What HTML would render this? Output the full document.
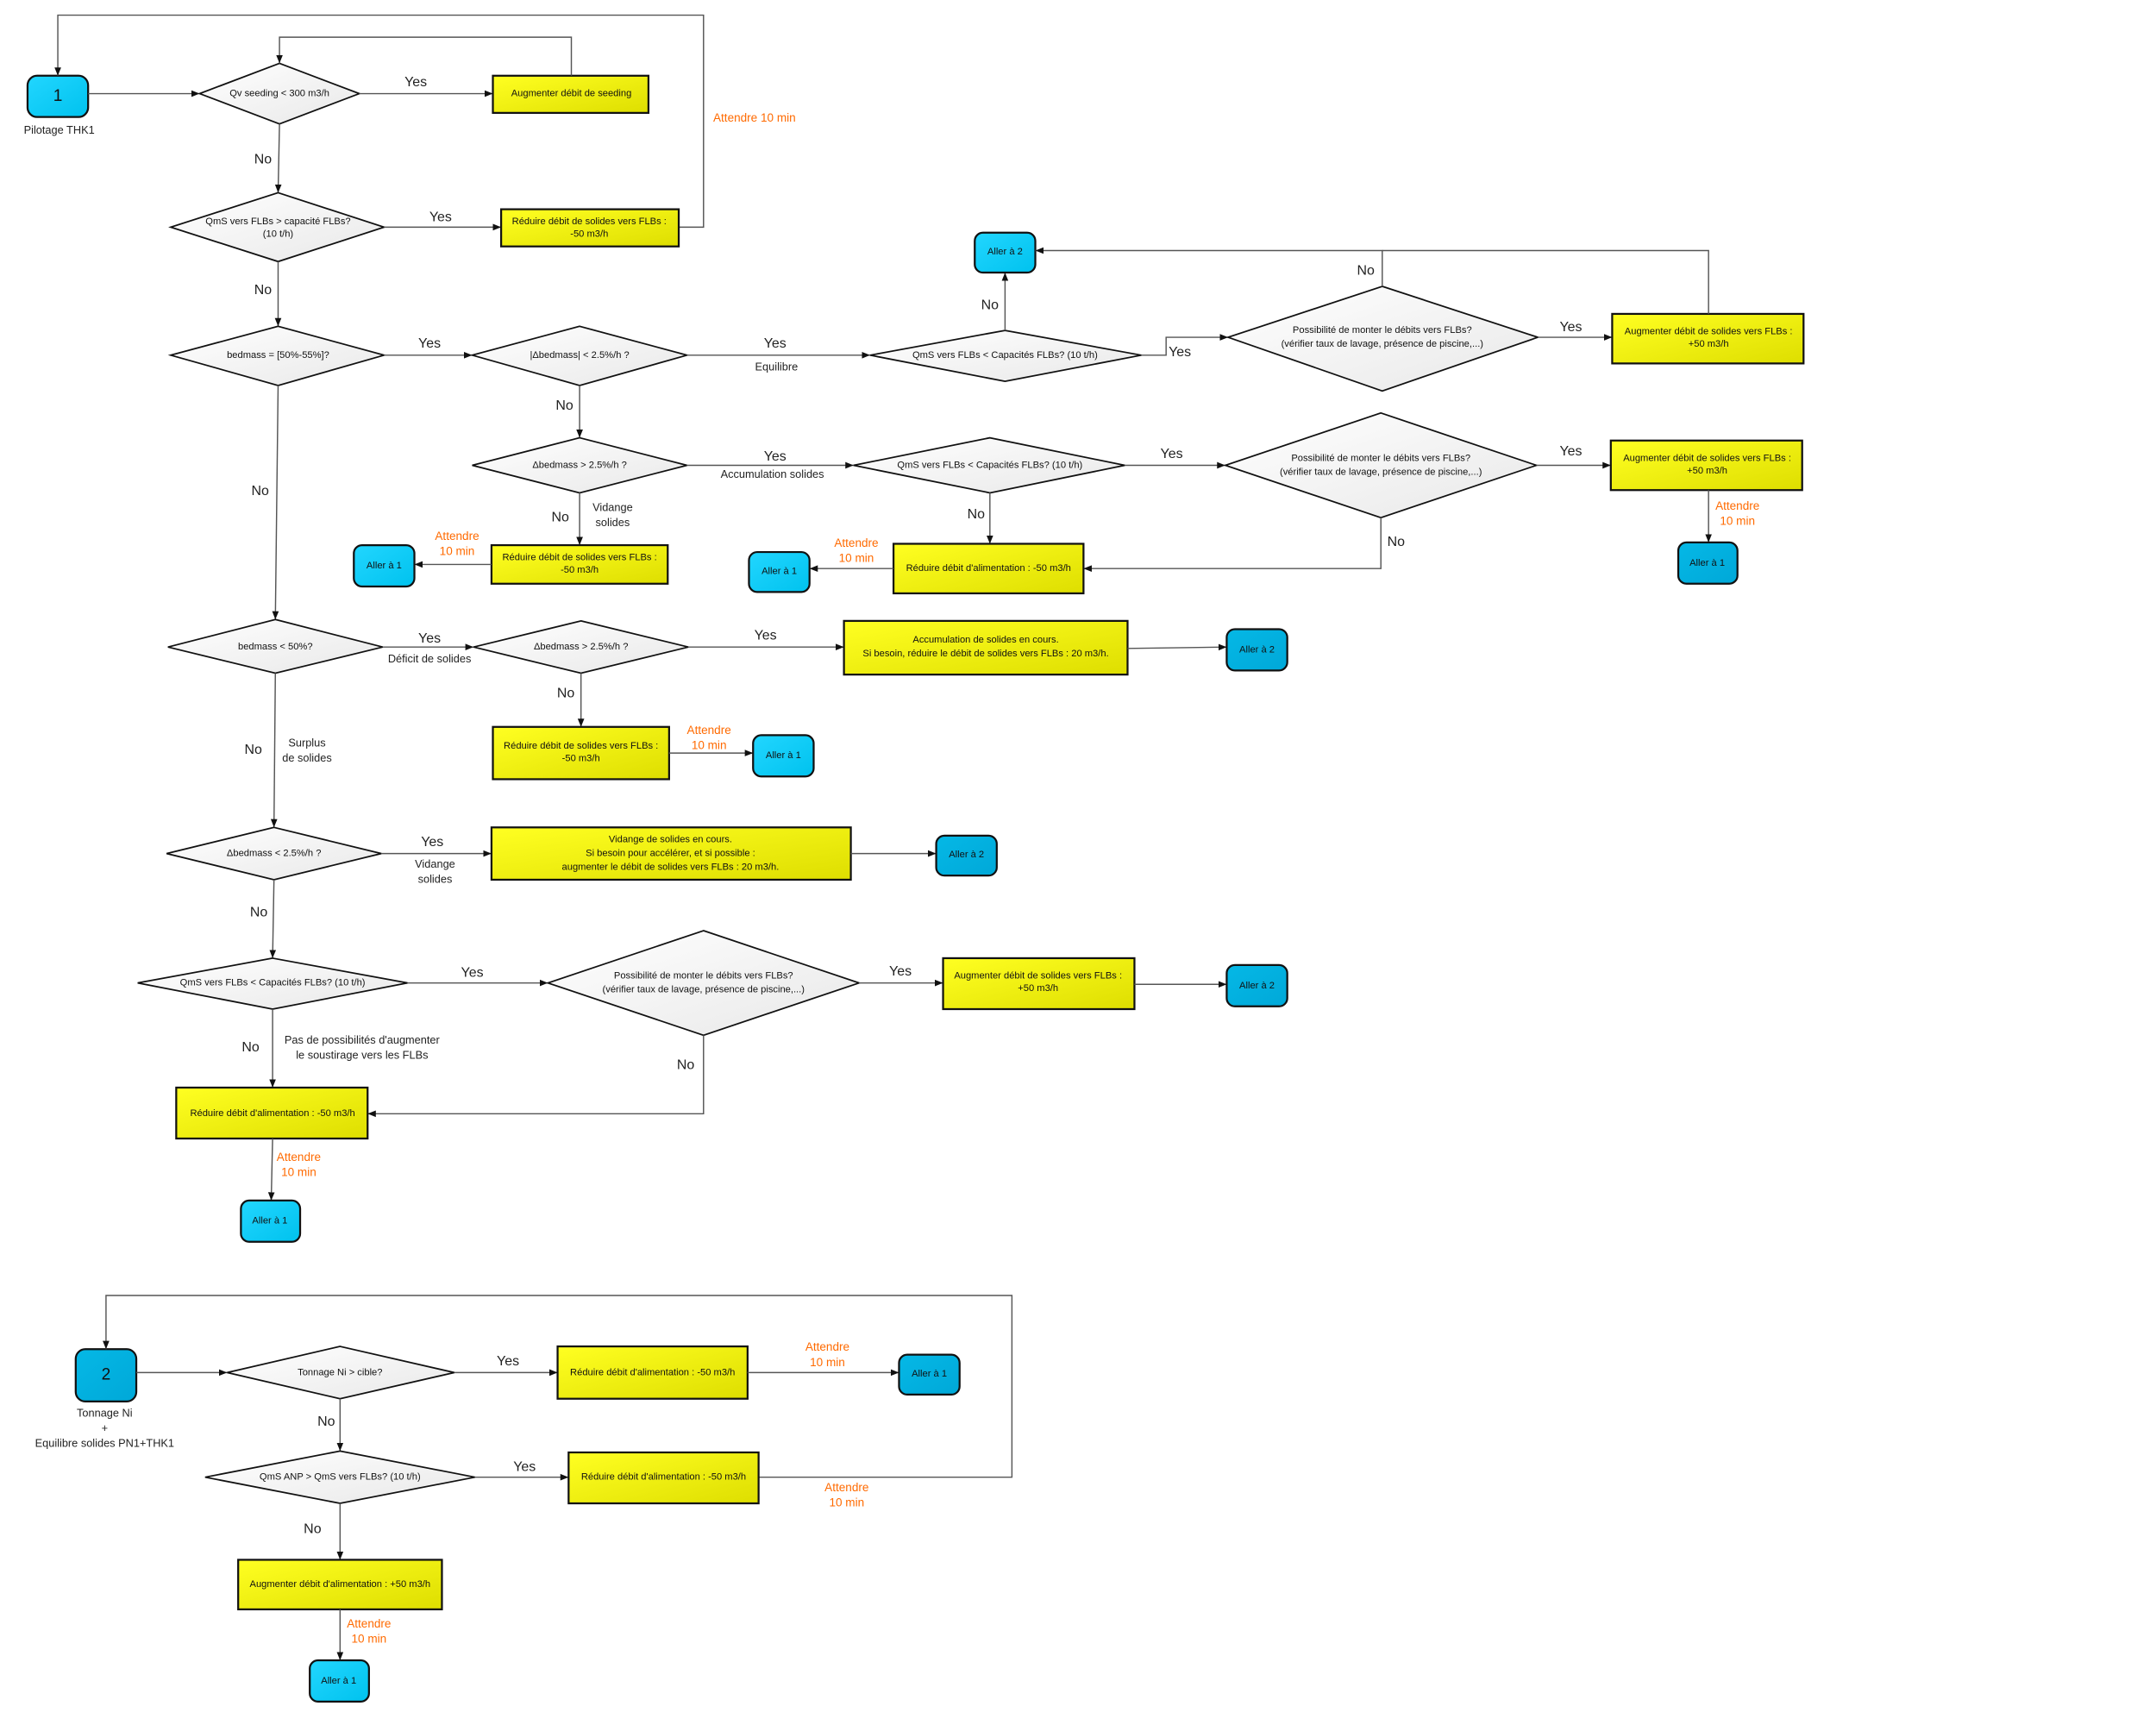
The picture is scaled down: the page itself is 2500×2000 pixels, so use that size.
<!DOCTYPE html>
<html><head><meta charset="utf-8">
<style>
html,body{margin:0;padding:0;background:#fff;}
svg{display:block;}
text{font-family:"Liberation Sans",Arial,sans-serif;text-anchor:middle;dominant-baseline:middle;fill:#111;}
.t{font-size:7px;}
.l{font-size:10px;fill:#222;}
.o{font-size:8.5px;fill:#ff6a00;}
.n{font-size:8px;fill:#222;}
.d{fill:url(#gd);stroke:#111;stroke-width:1.1;}
.b{fill:url(#gy);stroke:#111;stroke-width:1.4;}
.a{fill:url(#gb);stroke:#111;stroke-width:1.4;}
.a2{fill:url(#gb2);stroke:#111;stroke-width:1.4;}
.c{fill:none;stroke:#555;stroke-width:0.9;marker-end:url(#ar);}
.c0{fill:none;stroke:#555;stroke-width:0.9;}
</style></head><body>
<svg width="2500" height="2000" viewBox="0 0 1566 1253" preserveAspectRatio="none" xmlns="http://www.w3.org/2000/svg">
<defs>
<marker id="ar" viewBox="0 0 10 10" refX="10" refY="5" markerWidth="6" markerHeight="6" orient="auto" markerUnits="userSpaceOnUse"><path d="M0,1 L10,5 L0,9 z" fill="#111"/></marker>
<linearGradient id="gd" x1="0" y1="0" x2="1" y2="1"><stop offset="0" stop-color="#ffffff"/><stop offset="1" stop-color="#e8e8e8"/></linearGradient>
<linearGradient id="gy" x1="0" y1="0" x2="1" y2="1"><stop offset="0" stop-color="#ffff22"/><stop offset="1" stop-color="#dede00"/></linearGradient>
<linearGradient id="gb" x1="0" y1="0" x2="1" y2="1"><stop offset="0" stop-color="#22d6ff"/><stop offset="1" stop-color="#00c2ee"/></linearGradient>
<linearGradient id="gb2" x1="0" y1="0" x2="1" y2="1"><stop offset="0" stop-color="#05b8e6"/><stop offset="1" stop-color="#00a8d8"/></linearGradient>
</defs>

<!-- Section 1 -->
<rect class="a" x="20" y="55" width="44" height="30" rx="7"/>
<text x="42" y="70" style="font-size:12px">1</text>
<text class="n" x="43" y="95">Pilotage THK1</text>
<polyline class="c" points="493,165 511,165 511,11 42,11 42,55"/>
<text class="o" x="548" y="86">Attendre 10 min</text>

<line class="c" x1="64" y1="68" x2="145" y2="68"/>
<polygon class="d" points="203,46 261,68 203,90 145,68"/>
<text class="t" x="203" y="68">Qv seeding &lt; 300 m3/h</text>
<line class="c" x1="261" y1="68" x2="358" y2="68"/>
<text class="l" x="302" y="60">Yes</text>
<rect class="b" x="358" y="55" width="113" height="27"/>
<text class="t" x="415" y="68">Augmenter débit de seeding</text>
<polyline class="c" points="415,55 415,27 203,27 203,46"/>

<line class="c" x1="203" y1="90" x2="202" y2="140"/>
<text class="l" x="191" y="116">No</text>
<polygon class="d" points="202,140 279,165 202,190 124,165"/>
<text class="t" x="202" y="161">QmS vers FLBs &gt; capacité FLBs?</text>
<text class="t" x="202" y="170">(10 t/h)</text>
<line class="c" x1="279" y1="165" x2="364" y2="165"/>
<text class="l" x="320" y="158">Yes</text>
<rect class="b" x="364" y="152" width="129" height="27"/>
<text class="t" x="428" y="161">Réduire débit de solides vers FLBs :</text>
<text class="t" x="428" y="170">-50 m3/h</text>

<line class="c" x1="202" y1="190" x2="202" y2="237"/>
<text class="l" x="191" y="211">No</text>
<polygon class="d" points="202,237 279,258 202,280 124,258"/>
<text class="t" x="202" y="258">bedmass = [50%-55%]?</text>
<line class="c" x1="279" y1="258" x2="343" y2="258"/>
<text class="l" x="312" y="250">Yes</text>
<polygon class="d" points="421,237 499,258 421,280 343,258"/>
<text class="t" x="421" y="258">|Δbedmass| &lt; 2.5%/h ?</text>
<line class="c" x1="499" y1="258" x2="632" y2="258"/>
<text class="l" x="563" y="250">Yes</text>
<text class="n" x="564" y="267">Equilibre</text>
<polygon class="d" points="730,240 829,258 730,277 632,258"/>
<text class="t" x="730" y="258">QmS vers FLBs &lt; Capacités FLBs? (10 t/h)</text>
<line class="c" x1="730" y1="240" x2="730" y2="198"/>
<text class="l" x="719" y="222">No</text>
<rect class="a" x="708" y="169" width="44" height="29" rx="6"/>
<text class="t" x="730" y="183">Aller à 2</text>
<polyline class="c" points="829,258 847,258 847,245 892,245"/>
<text class="l" x="857" y="256">Yes</text>
<polygon class="d" points="1004,208 1117,245 1004,284 892,245"/>
<text class="t" x="1004" y="240">Possibilité de monter le débits vers FLBs?</text>
<text class="t" x="1004" y="250">(vérifier taux de lavage, présence de piscine,...)</text>
<polyline class="c" points="1004,208 1004,182 752,182"/>
<text class="l" x="992" y="197">No</text>
<line class="c" x1="1117" y1="245" x2="1171" y2="245"/>
<text class="l" x="1141" y="238">Yes</text>
<rect class="b" x="1171" y="228" width="139" height="36"/>
<text class="t" x="1241" y="241">Augmenter débit de solides vers FLBs :</text>
<text class="t" x="1241" y="250">+50 m3/h</text>
<polyline class="c0" points="1241,228 1241,182 1004,182"/>

<line class="c" x1="421" y1="280" x2="421" y2="318"/>
<text class="l" x="410" y="295">No</text>
<polygon class="d" points="421,318 499,338 421,358 343,338"/>
<text class="t" x="421" y="338">Δbedmass &gt; 2.5%/h ?</text>
<line class="c" x1="499" y1="338" x2="620" y2="338"/>
<text class="l" x="563" y="332">Yes</text>
<text class="n" x="561" y="345">Accumulation solides</text>
<polygon class="d" points="719,318 817,338 719,358 620,338"/>
<text class="t" x="719" y="338">QmS vers FLBs &lt; Capacités FLBs? (10 t/h)</text>
<line class="c" x1="817" y1="338" x2="890" y2="338"/>
<text class="l" x="851" y="330">Yes</text>
<polygon class="d" points="1003,300 1116,338 1003,376 890,338"/>
<text class="t" x="1003" y="333">Possibilité de monter le débits vers FLBs?</text>
<text class="t" x="1003" y="343">(vérifier taux de lavage, présence de piscine,...)</text>
<line class="c" x1="1116" y1="338" x2="1170" y2="338"/>
<text class="l" x="1141" y="328">Yes</text>
<rect class="b" x="1170" y="320" width="139" height="36"/>
<text class="t" x="1240" y="333">Augmenter débit de solides vers FLBs :</text>
<text class="t" x="1240" y="342">+50 m3/h</text>
<line class="c" x1="1241" y1="356" x2="1241" y2="394"/>
<text class="o" x="1262" y="368">Attendre</text>
<text class="o" x="1262" y="379">10 min</text>
<rect class="a2" x="1219" y="394" width="43" height="30" rx="6"/>
<text class="t" x="1240" y="409">Aller à 1</text>
<polyline class="c" points="1003,376 1003,413 787,413"/>
<text class="l" x="1014" y="394">No</text>
<line class="c" x1="719" y1="358" x2="719" y2="395"/>
<text class="l" x="709" y="374">No</text>
<rect class="b" x="649" y="395" width="138" height="36"/>
<text class="t" x="718" y="413">Réduire débit d'alimentation : -50 m3/h</text>
<line class="c" x1="649" y1="413" x2="588" y2="413"/>
<text class="o" x="622" y="395">Attendre</text>
<text class="o" x="622" y="406">10 min</text>
<rect class="a" x="544" y="401" width="44" height="29" rx="6"/>
<text class="t" x="566" y="415">Aller à 1</text>

<line class="c" x1="421" y1="358" x2="421" y2="396"/>
<text class="l" x="407" y="376">No</text>
<text class="n" x="445" y="369">Vidange</text>
<text class="n" x="445" y="380">solides</text>
<rect class="b" x="357" y="396" width="128" height="28"/>
<text class="t" x="421" y="405">Réduire débit de solides vers FLBs :</text>
<text class="t" x="421" y="414">-50 m3/h</text>
<line class="c" x1="357" y1="410" x2="301" y2="410"/>
<text class="o" x="332" y="390">Attendre</text>
<text class="o" x="332" y="401">10 min</text>
<rect class="a" x="257" y="396" width="44" height="30" rx="6"/>
<text class="t" x="279" y="411">Aller à 1</text>

<line class="c" x1="202" y1="280" x2="200" y2="450"/>
<text class="l" x="189" y="357">No</text>
<polygon class="d" points="200,450 278,470 200,489 122,470"/>
<text class="t" x="200" y="470">bedmass &lt; 50%?</text>
<line class="c" x1="278" y1="470" x2="344" y2="470"/>
<text class="l" x="312" y="464">Yes</text>
<text class="n" x="312" y="479">Déficit de solides</text>
<polygon class="d" points="422,451 500,470 422,489 344,470"/>
<text class="t" x="422" y="470">Δbedmass &gt; 2.5%/h ?</text>
<line class="c" x1="500" y1="470" x2="613" y2="470"/>
<text class="l" x="556" y="462">Yes</text>
<rect class="b" x="613" y="451" width="206" height="39"/>
<text class="t" x="716" y="465">Accumulation de solides en cours.</text>
<text class="t" x="716" y="475">Si besoin, réduire le débit de solides vers FLBs : 20 m3/h.</text>
<line class="c" x1="819" y1="471" x2="891" y2="470"/>
<rect class="a2" x="891" y="457" width="44" height="30" rx="6"/>
<text class="t" x="913" y="472">Aller à 2</text>

<line class="c" x1="422" y1="489" x2="422" y2="528"/>
<text class="l" x="411" y="504">No</text>
<rect class="b" x="358" y="528" width="128" height="38"/>
<text class="t" x="422" y="542">Réduire débit de solides vers FLBs :</text>
<text class="t" x="422" y="551">-50 m3/h</text>
<line class="c" x1="486" y1="547" x2="547" y2="547"/>
<text class="o" x="515" y="531">Attendre</text>
<text class="o" x="515" y="542">10 min</text>
<rect class="a" x="547" y="534" width="44" height="30" rx="6"/>
<text class="t" x="569" y="549">Aller à 1</text>

<line class="c" x1="200" y1="489" x2="199" y2="601"/>
<text class="l" x="184" y="545">No</text>
<text class="n" x="223" y="540">Surplus</text>
<text class="n" x="223" y="551">de solides</text>
<polygon class="d" points="199,601 277,620 199,639 121,620"/>
<text class="t" x="199" y="620">Δbedmass &lt; 2.5%/h ?</text>
<line class="c" x1="277" y1="620" x2="357" y2="620"/>
<text class="l" x="314" y="612">Yes</text>
<text class="n" x="316" y="628">Vidange</text>
<text class="n" x="316" y="639">solides</text>
<rect class="b" x="357" y="601" width="261" height="38"/>
<text class="t" x="487" y="610">Vidange de solides en cours.</text>
<text class="t" x="487" y="620">Si besoin pour accélérer, et si possible :</text>
<text class="t" x="487" y="630">augmenter le débit de solides vers FLBs : 20 m3/h.</text>
<line class="c" x1="618" y1="620" x2="680" y2="620"/>
<rect class="a2" x="680" y="607" width="44" height="29" rx="6"/>
<text class="t" x="702" y="621">Aller à 2</text>

<line class="c" x1="199" y1="639" x2="198" y2="696"/>
<text class="l" x="188" y="663">No</text>
<polygon class="d" points="198,696 296,714 198,733 100,714"/>
<text class="t" x="198" y="714">QmS vers FLBs &lt; Capacités FLBs? (10 t/h)</text>
<line class="c" x1="296" y1="714" x2="398" y2="714"/>
<text class="l" x="343" y="707">Yes</text>
<polygon class="d" points="511,676 624,714 511,752 398,714"/>
<text class="t" x="511" y="709">Possibilité de monter le débits vers FLBs?</text>
<text class="t" x="511" y="719">(vérifier taux de lavage, présence de piscine,...)</text>
<line class="c" x1="624" y1="714" x2="685" y2="714"/>
<text class="l" x="654" y="706">Yes</text>
<rect class="b" x="685" y="696" width="139" height="37"/>
<text class="t" x="754" y="709">Augmenter débit de solides vers FLBs :</text>
<text class="t" x="754" y="718">+50 m3/h</text>
<line class="c" x1="824" y1="715" x2="891" y2="715"/>
<rect class="a2" x="891" y="701" width="44" height="30" rx="6"/>
<text class="t" x="913" y="716">Aller à 2</text>
<polyline class="c" points="511,752 511,809 267,809"/>
<text class="l" x="498" y="774">No</text>
<line class="c" x1="198" y1="733" x2="198" y2="790"/>
<text class="l" x="182" y="761">No</text>
<text class="n" x="263" y="756">Pas de possibilités d'augmenter</text>
<text class="n" x="263" y="767">le soustirage vers les FLBs</text>
<rect class="b" x="128" y="790" width="139" height="37"/>
<text class="t" x="198" y="809">Réduire débit d'alimentation : -50 m3/h</text>
<line class="c" x1="198" y1="827" x2="197" y2="872"/>
<text class="o" x="217" y="841">Attendre</text>
<text class="o" x="217" y="852">10 min</text>
<rect class="a" x="175" y="872" width="43" height="30" rx="6"/>
<text class="t" x="196" y="887">Aller à 1</text>

<!-- Section 2 -->
<rect class="a2" x="55" y="980" width="44" height="38" rx="7"/>
<text x="77" y="999" style="font-size:12px">2</text>
<text class="n" x="76" y="1027">Tonnage Ni</text>
<text class="n" x="76" y="1038">+</text>
<text class="n" x="76" y="1049">Equilibre solides PN1+THK1</text>
<polyline class="c" points="551,1073 735,1073 735,941 77,941 77,980"/>
<text class="o" x="615" y="1081">Attendre</text>
<text class="o" x="615" y="1092">10 min</text>

<line class="c" x1="99" y1="997" x2="165" y2="997"/>
<polygon class="d" points="247,978 330,997 247,1016 165,997"/>
<text class="t" x="247" y="997">Tonnage Ni &gt; cible?</text>
<line class="c" x1="330" y1="997" x2="405" y2="997"/>
<text class="l" x="369" y="989">Yes</text>
<rect class="b" x="405" y="978" width="138" height="38"/>
<text class="t" x="474" y="997">Réduire débit d'alimentation : -50 m3/h</text>
<line class="c" x1="543" y1="997" x2="653" y2="997"/>
<text class="o" x="601" y="979">Attendre</text>
<text class="o" x="601" y="990">10 min</text>
<rect class="a2" x="653" y="984" width="44" height="29" rx="6"/>
<text class="t" x="675" y="998">Aller à 1</text>

<line class="c" x1="247" y1="1016" x2="247" y2="1054"/>
<text class="l" x="237" y="1033">No</text>
<polygon class="d" points="247,1054 345,1073 247,1092 149,1073"/>
<text class="t" x="247" y="1073">QmS ANP &gt; QmS vers FLBs? (10 t/h)</text>
<line class="c" x1="345" y1="1073" x2="413" y2="1073"/>
<text class="l" x="381" y="1066">Yes</text>
<rect class="b" x="413" y="1055" width="138" height="37"/>
<text class="t" x="482" y="1073">Réduire débit d'alimentation : -50 m3/h</text>

<line class="c" x1="247" y1="1092" x2="247" y2="1133"/>
<text class="l" x="227" y="1111">No</text>
<rect class="b" x="173" y="1133" width="148" height="36"/>
<text class="t" x="247" y="1151">Augmenter débit d'alimentation : +50 m3/h</text>
<line class="c" x1="247" y1="1169" x2="247" y2="1206"/>
<text class="o" x="268" y="1180">Attendre</text>
<text class="o" x="268" y="1191">10 min</text>
<rect class="a" x="225" y="1206" width="43" height="30" rx="6"/>
<text class="t" x="246" y="1221">Aller à 1</text>
</svg>
</body></html>
